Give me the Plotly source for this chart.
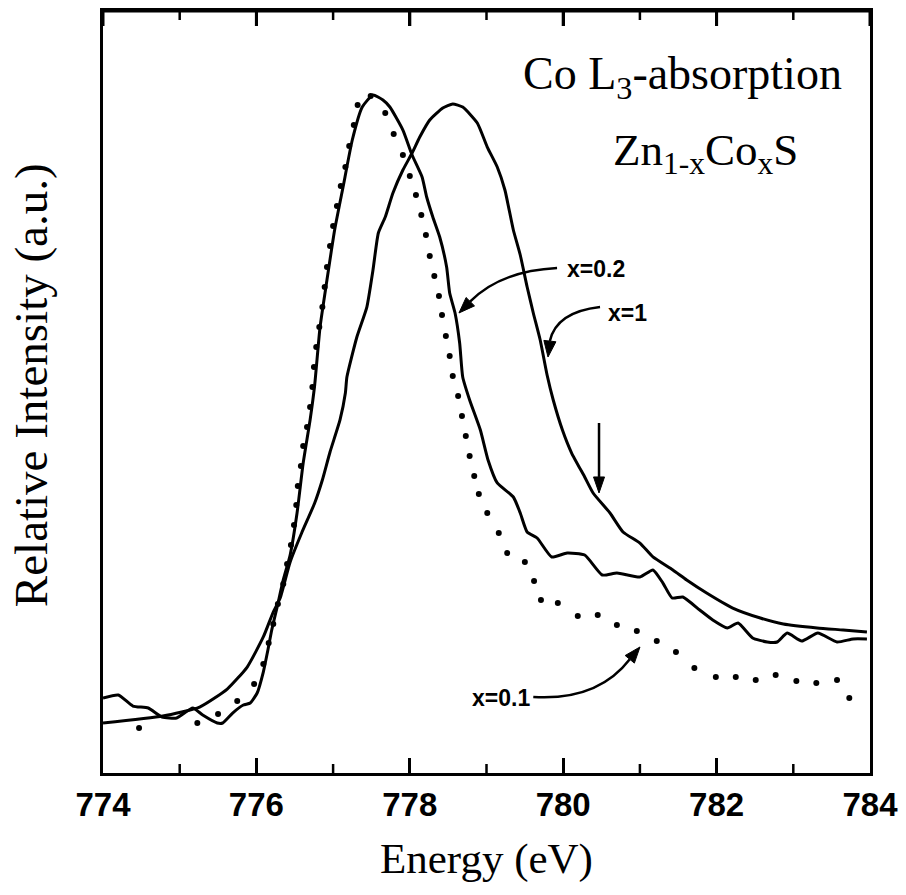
import plotly.graph_objects as go

# ---- data (energy in eV, intensity in arbitrary units) ----
energy_x01 = [774.47, 775.23, 775.50, 775.75, 775.97, 776.09, 776.16, 776.22, 776.28, 776.35,
              776.40, 776.45, 776.49, 776.52, 776.54, 776.58, 776.61, 776.66, 776.70, 776.73,
              776.75, 776.78, 776.82, 776.86, 776.89, 776.92, 776.96, 777.00, 777.05, 777.10,
              777.16, 777.21, 777.27, 777.32, 777.49, 777.68, 777.79, 777.91, 778.00, 778.08,
              778.15, 778.21, 778.26, 778.32, 778.38, 778.42, 778.47, 778.52, 778.56, 778.63,
              778.68, 778.73, 778.78, 778.84, 778.90, 779.01, 779.16, 779.27, 779.50, 779.62,
              779.71, 779.93, 780.19, 780.45, 780.70, 780.96, 781.22, 781.47, 781.71, 781.99,
              782.25, 782.51, 782.77, 783.04, 783.30, 783.57, 783.73]
intensity_x01 = [5.91, 6.56, 7.74, 9.45, 11.68, 14.30, 17.06, 19.55, 22.18, 24.80,
                 27.43, 29.92, 32.55, 35.17, 37.66, 40.29, 42.91, 45.41, 48.03, 50.66,
                 53.28, 55.91, 58.53, 61.15, 63.78, 66.40, 69.16, 71.78, 74.41, 77.03,
                 79.53, 82.28, 85.04, 87.66, 88.85, 86.61, 83.86, 81.10, 78.35, 75.85,
                 73.23, 70.60, 67.85, 65.22, 62.60, 60.10, 57.35, 54.72, 52.10, 49.48,
                 46.85, 44.23, 41.60, 38.98, 36.61, 34.12, 31.50, 28.87, 27.69, 25.20,
                 22.70, 22.31, 20.60, 20.73, 19.42, 18.64, 17.32, 15.88, 13.78, 12.60,
                 12.60, 12.20, 12.86, 12.07, 11.81, 12.20, 9.84]

energy_x02 = [774.00, 774.20, 774.39, 774.59, 774.77, 774.96, 775.17, 775.30, 775.49, 775.56,
              775.69, 775.83, 775.92, 776.01, 776.09, 776.15, 776.20, 776.27, 776.35, 776.44,
              776.53, 776.61, 776.70, 776.76, 776.83, 776.92, 777.02, 777.13, 777.25, 777.38,
              777.52, 777.65, 777.74, 777.91, 778.03, 778.16, 778.22, 778.30, 778.39, 778.48,
              778.52, 778.59, 778.65, 778.69, 778.78, 778.92, 779.02, 779.14, 779.35, 779.44,
              779.53, 779.66, 779.85, 780.05, 780.28, 780.51, 780.70, 781.00, 781.17, 781.30,
              781.42, 781.56, 781.78, 781.95, 782.14, 782.28, 782.47, 782.66, 782.79, 782.92,
              783.11, 783.32, 783.57, 783.78, 783.96]
intensity_x02 = [9.84, 10.24, 8.79, 8.53, 7.35, 7.22, 8.53, 7.61, 6.56, 6.56,
                 7.87, 8.92, 9.19, 10.50, 13.25, 16.14, 18.77, 21.78, 25.33, 28.61,
                 34.12, 40.68, 46.33, 50.92, 58.53, 64.70, 71.26, 76.90, 83.07, 87.40,
                 88.98, 88.32, 87.40, 84.38, 81.10, 78.22, 75.59, 72.97, 70.34, 66.40,
                 62.99, 60.37, 56.43, 51.97, 48.95, 45.01, 41.08, 38.06, 36.22, 34.12,
                 31.63, 30.84, 28.35, 28.87, 28.61, 25.98, 26.25, 25.72, 26.64, 24.93,
                 22.97, 23.10, 21.39, 20.08, 19.03, 19.69, 17.72, 17.19, 17.19, 18.37,
                 17.32, 18.37, 17.19, 17.59, 17.59]

energy_x1 = [774.00, 774.78, 775.26, 775.62, 775.88, 776.09, 776.22, 776.31, 776.44, 776.59,
             776.76, 776.86, 776.96, 777.09, 777.16, 777.18, 777.31, 777.44, 777.52, 777.59,
             777.68, 777.78, 777.91, 778.03, 778.13, 778.26, 778.43, 778.56, 778.69, 778.88,
             779.01, 779.14, 779.24, 779.35, 779.44, 779.53, 779.61, 779.70, 779.79, 779.87,
             779.99, 780.11, 780.28, 780.39, 780.61, 780.78, 781.00, 781.17, 781.43, 781.61,
             781.87, 782.21, 782.57, 782.87, 783.31, 783.65, 783.96]
intensity_x1 = [6.56, 7.48, 8.66, 11.02, 13.91, 17.85, 21.13, 22.97, 27.69, 31.50,
                35.43, 38.45, 42.13, 46.33, 49.87, 51.97, 57.22, 61.15, 66.01, 70.87,
                72.97, 76.12, 79.13, 81.36, 83.46, 85.70, 87.27, 87.80, 87.40, 85.30,
                82.15, 79.53, 76.51, 71.26, 67.98, 63.78, 60.37, 56.82, 52.23, 48.95,
                45.01, 41.99, 38.85, 36.75, 34.12, 31.63, 30.18, 28.35, 26.64, 25.33,
                23.62, 21.65, 20.34, 19.55, 19.03, 18.77, 18.50]

x_major_ticks = [774, 776, 778, 780, 782, 784]
x_major_labels = ["774", "776", "778", "780", "782", "784"]
x_minor_ticks = [775, 777, 779, 781, 783]

SERIF = "Liberation Serif, Times New Roman, serif"
SANS = "Liberation Sans, Arial, sans-serif"

fig = go.Figure()
fig.add_trace(go.Scatter(x=energy_x1, y=intensity_x1, mode="lines",
                         line=dict(color="black", width=3, shape="spline", smoothing=0.5),
                         showlegend=False, hoverinfo="skip"))
fig.add_trace(go.Scatter(x=energy_x02, y=intensity_x02, mode="lines",
                         line=dict(color="black", width=3, shape="spline", smoothing=0.5),
                         showlegend=False, hoverinfo="skip"))
fig.add_trace(go.Scatter(x=energy_x01, y=intensity_x01, mode="markers",
                         marker=dict(color="black", size=6),
                         showlegend=False, hoverinfo="skip"))

# top frame line (paper) and inward ticks on both horizontal edges
fig.add_shape(type="line", xref="paper", yref="paper", x0=0, x1=1, y0=1, y1=1,
              line=dict(color="black", width=3))
for t in x_major_ticks:
    fig.add_shape(type="line", xref="x", yref="y", x0=t, x1=t, y0=100, y1=100 - 15 / 7.62,
                  line=dict(color="black", width=3))
for t in x_minor_ticks:
    fig.add_shape(type="line", xref="x", yref="y", x0=t, x1=t, y0=100, y1=100 - 9 / 7.62,
                  line=dict(color="black", width=2.5))
    fig.add_shape(type="line", xref="x", yref="y", x0=t, x1=t, y0=0, y1=9 / 7.62,
                  line=dict(color="black", width=2.5))

ARROW_LINE = dict(color="black", width=2.5)
# curved arrow bodies
fig.add_shape(type="path", xref="x", yref="y",
              path="M 779.92,66.27 Q 779.18,65.88 778.785,61.85", line=ARROW_LINE)
fig.add_shape(type="path", xref="x", yref="y",
              path="M 780.48,61.15 Q 779.91,60.50 779.826,56.68", line=ARROW_LINE)
fig.add_shape(type="path", xref="x", yref="y",
              path="M 779.61,9.97 Q 780.45,9.45 780.868,14.92", line=ARROW_LINE)
fig.add_shape(type="line", xref="x", yref="y",
              x0=780.467, y0=45.93, x1=780.467, y1=38.85, line=ARROW_LINE)
# arrow heads
HEAD = dict(xref="x", yref="y", line=dict(color="black", width=1), fillcolor="black")
fig.add_shape(type="path", path="M 778.641,60.37 L 778.844,61.30 L 778.734,62.40 Z", **HEAD)
fig.add_shape(type="path", path="M 779.802,54.59 L 779.905,56.59 L 779.748,56.77 Z", **HEAD)
fig.add_shape(type="path", path="M 781.001,16.54 L 780.928,14.42 L 780.808,15.42 Z", **HEAD)
fig.add_shape(type="path", path="M 780.467,36.75 L 780.395,38.85 L 780.539,38.85 Z", **HEAD)

ann = []
# curve labels
for (lx, ly, t) in [(780.43, 66.14, "x=0.2"), (780.84, 60.37, "x=1"), (779.19, 9.84, "x=0.1")]:
    ann.append(dict(x=lx, y=ly, xref="x", yref="y", text="<b>" + t + "</b>", showarrow=False,
                    font=dict(family=SANS, size=23, color="black"),
                    xanchor="center", yanchor="middle"))
# title text
ann.append(dict(x=0.755, y=0.914, xref="paper", yref="paper",
                text="Co L<sub>3</sub>-absorption", showarrow=False,
                font=dict(family=SERIF, size=46, color="black"),
                xanchor="center", yanchor="middle"))
ann.append(dict(x=0.786, y=0.813, xref="paper", yref="paper",
                text="Zn<sub>1-x</sub>Co<sub>x</sub>S", showarrow=False,
                font=dict(family=SERIF, size=45, color="black"),
                xanchor="center", yanchor="middle"))
# axis titles
ann.append(dict(x=0.5, y=0, xref="paper", yref="paper", text="Energy (eV)", showarrow=False,
                font=dict(family=SERIF, size=43, color="black"),
                xanchor="center", yanchor="middle", yshift=-86))
ann.append(dict(x=0, y=0.509, xref="paper", yref="paper", text="Relative Intensity (a.u.)",
                showarrow=False, textangle=-90,
                font=dict(family=SERIF, size=47, color="black"),
                xanchor="center", yanchor="middle", xshift=-72))

fig.update_layout(
    width=906, height=895, autosize=False,
    margin=dict(l=103, r=36, t=11, b=122),
    paper_bgcolor="white", plot_bgcolor="white",
    hovermode=False,
    annotations=ann,
    xaxis=dict(range=[774, 784], showline=True, linewidth=3, linecolor="black", mirror="ticks",
               ticks="inside", ticklen=15, tickwidth=3, tickcolor="black",
               tickvals=x_major_ticks, ticktext=["<b>" + s + "</b>" for s in x_major_labels],
               tickfont=dict(family=SANS, size=33, color="black"),
               showgrid=False, zeroline=False, automargin=False),
    yaxis=dict(range=[0, 100], showline=True, linewidth=3, linecolor="black", mirror=True,
               showticklabels=False, showgrid=False, zeroline=False, automargin=False),
)

fig.write_html("out.html", config=dict(staticPlot=True, displayModeBar=False))
